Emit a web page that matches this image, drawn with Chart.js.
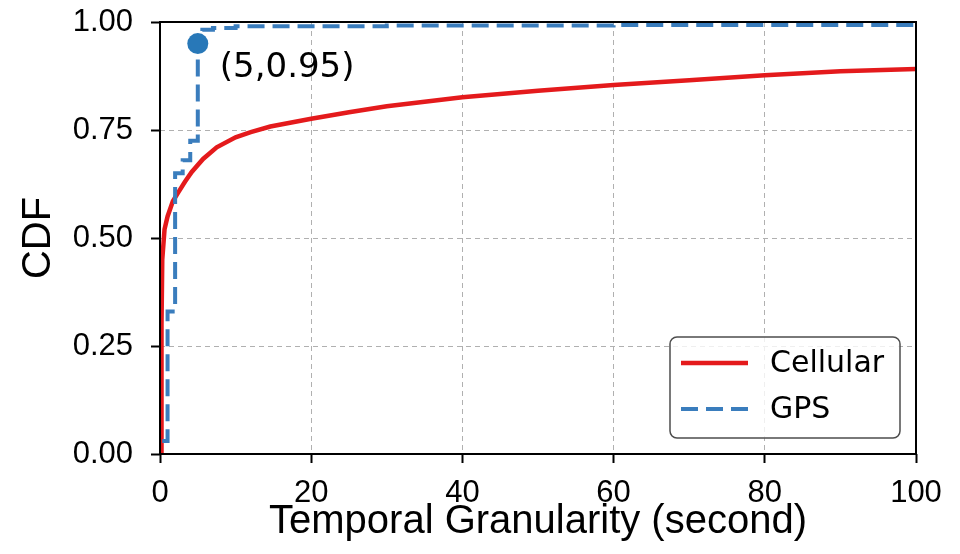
<!DOCTYPE html>
<html>
<head>
<meta charset="utf-8">
<script src="https://cdn.jsdelivr.net/npm/chart.js@4"></script>
<style>
html,body{margin:0;padding:0;background:#fff;}
#wrap{width:960px;height:554px;position:relative;}
</style>
</head>
<body>
<div id="wrap"><canvas id="c" width="960" height="554"></canvas></div>
<script>
// ---- data ----
const cellularX = [0.15, 0.2, 0.3, 0.6, 1.0, 1.7, 2.4, 3.3, 4.2, 5.7, 7.5, 10, 12, 14.6, 20, 25, 30, 40, 50, 60, 70, 80, 90, 100];
const cellularY = [0.0, 0.3, 0.45, 0.52, 0.55, 0.585, 0.605, 0.63, 0.653, 0.683, 0.71, 0.733, 0.745, 0.758, 0.776, 0.791, 0.805, 0.826, 0.841, 0.854, 0.865, 0.877, 0.886, 0.891];
const gpsX = [0.3, 1, 2, 3, 4, 5, 5.6, 7, 10, 30, 60, 100];
const gpsY = [0.03, 0.33, 0.65, 0.68, 0.725, 0.975, 0.982, 0.986, 0.99, 0.992, 0.993, 0.994];
const markerX = [5];
const markerY = [0.95];
const markerLabel = "(5,0.95)";
const xTicks = [0, 20, 40, 60, 80, 100];
const yTicks = [0.00, 0.25, 0.50, 0.75, 1.00];
const seriesNames = ["Cellular", "GPS"];
const xTitle = "Temporal Granularity (second)";
const yTitle = "CDF";

const RED = '#e41a1c';
const BLUE = '#3a7dbd';

const toPts = (xs, ys) => xs.map((x, i) => ({x: x, y: ys[i]}));

const framePlugin = {
  id: 'frame',
  afterDatasetsDraw(chart) {
    const ctx = chart.ctx;
    const xs = chart.scales.x, ys = chart.scales.y;
    // annotation text
    const px = xs.getPixelForValue(markerX[0]);
    const py = ys.getPixelForValue(markerY[0]);
    ctx.save();
    ctx.fillStyle = '#000';
    ctx.font = '34px "DejaVu Sans"';
    ctx.textBaseline = 'alphabetic';
    ctx.textAlign = 'left';
    ctx.fillText(markerLabel, px + 22, py + 33);
    ctx.restore();

    // legend
    ctx.save();
    const lx = 670, ly = 337, lw = 230, lh = 101, r = 7;
    ctx.beginPath();
    ctx.moveTo(lx + r, ly);
    ctx.arcTo(lx + lw, ly, lx + lw, ly + lh, r);
    ctx.arcTo(lx + lw, ly + lh, lx, ly + lh, r);
    ctx.arcTo(lx, ly + lh, lx, ly, r);
    ctx.arcTo(lx, ly, lx + lw, ly, r);
    ctx.closePath();
    ctx.fillStyle = 'rgba(255,255,255,0.8)';
    ctx.fill();
    ctx.lineWidth = 1.5;
    ctx.strokeStyle = '#4d4d4d';
    ctx.stroke();
    const ds = chart.data.datasets;
    const rows = [363, 409];
    for (let i = 0; i < 2; i++) {
      ctx.beginPath();
      ctx.lineWidth = ds[i].borderWidth;
      ctx.strokeStyle = ds[i].borderColor;
      ctx.setLineDash(ds[i].borderDash || []);
      ctx.moveTo(681, rows[i]);
      ctx.lineTo(748, rows[i]);
      ctx.stroke();
      ctx.setLineDash([]);
      ctx.fillStyle = '#000';
      ctx.font = '30px "DejaVu Sans"';
      ctx.textBaseline = 'middle';
      ctx.fillText(seriesNames[i], 770, rows[i] + 1);
    }
    ctx.restore();
  },
  afterDraw(chart) {
    const ctx = chart.ctx;
    const a = chart.chartArea;
    ctx.save();
    ctx.strokeStyle = '#000';
    ctx.lineWidth = 2;
    ctx.strokeRect(a.left, a.top, a.right - a.left, a.bottom - a.top);
    ctx.restore();
  }
};

const gridColor = (ctx) => {
  const v = ctx.tick ? ctx.tick.value : null;
  if (v === null) return 'rgba(0,0,0,0)';
  if (ctx.scale.axis === 'x' && (v === 0 || v === 100)) return 'rgba(0,0,0,0)';
  if (ctx.scale.axis === 'y' && (Math.abs(v) < 1e-9 || Math.abs(v - 1) < 1e-9)) return 'rgba(0,0,0,0)';
  return '#b0b0b0';
};

new Chart(document.getElementById('c'), {
  type: 'line',
  data: {
    datasets: [
      {
        label: seriesNames[0],
        data: toPts(cellularX, cellularY),
        borderColor: RED,
        backgroundColor: RED,
        borderWidth: 4.5,
        pointRadius: 0,
        tension: 0,
        fill: false,
        order: 2
      },
      {
        label: seriesNames[1],
        data: toPts(gpsX, gpsY),
        borderColor: BLUE,
        backgroundColor: BLUE,
        borderWidth: 4,
        borderDash: [17, 8],
        pointRadius: 0,
        stepped: true,
        fill: false,
        order: 1
      },
      {
        label: 'marker',
        data: toPts(markerX, markerY),
        showLine: false,
        pointRadius: 10.5,
        pointBackgroundColor: '#2878b8',
        pointBorderColor: '#2878b8',
        pointBorderWidth: 0,
        order: 0
      }
    ]
  },
  options: {
    responsive: false,
    animation: false,
    devicePixelRatio: 1,
    layout: {padding: {left: 0, right: 44, top: 22, bottom: 0}},
    plugins: {
      legend: {display: false},
      tooltip: {enabled: false}
    },
    scales: {
      x: {
        type: 'linear',
        min: 0, max: 100,
        afterBuildTicks(scale) { scale.ticks = xTicks.map(v => ({value: v})); },
        afterFit(scale) { scale.height = 100; scale.paddingLeft = 0; scale.paddingRight = 0; },
        ticks: {
          color: '#000',
          font: {family: '"Liberation Sans", Arial, sans-serif', size: 31},
          padding: 12,
          maxRotation: 0,
          callback: (v) => String(v)
        },
        grid: {
          color: gridColor,
          lineWidth: 1,
          drawTicks: true,
          tickLength: 9,
          tickColor: '#000',
          tickWidth: 2,
          tickBorderDash: []
        },
        border: {display: false, dash: [5, 4]},
        title: {
          display: true,
          text: xTitle,
          color: '#000',
          font: {family: '"Liberation Sans", Arial, sans-serif', size: 40},
          padding: {top: 0, bottom: 8}
        }
      },
      y: {
        type: 'linear',
        min: 0, max: 1,
        afterBuildTicks(scale) { scale.ticks = yTicks.map(v => ({value: v})); },
        afterFit(scale) { scale.width = 160; scale.paddingTop = 0; scale.paddingBottom = 0; },
        ticks: {
          color: '#000',
          font: {family: '"Liberation Sans", Arial, sans-serif', size: 31},
          padding: 18,
          callback: (v) => Number(v).toFixed(2)
        },
        grid: {
          color: gridColor,
          lineWidth: 1,
          drawTicks: true,
          tickLength: 9,
          tickColor: '#000',
          tickWidth: 2,
          tickBorderDash: []
        },
        border: {display: false, dash: [5, 4]},
        title: {
          display: true,
          text: yTitle,
          color: '#000',
          font: {family: '"Liberation Sans", Arial, sans-serif', size: 40},
          padding: {top: 15, bottom: 0}
        }
      }
    }
  },
  plugins: [framePlugin]
});
</script>
</body>
</html>
